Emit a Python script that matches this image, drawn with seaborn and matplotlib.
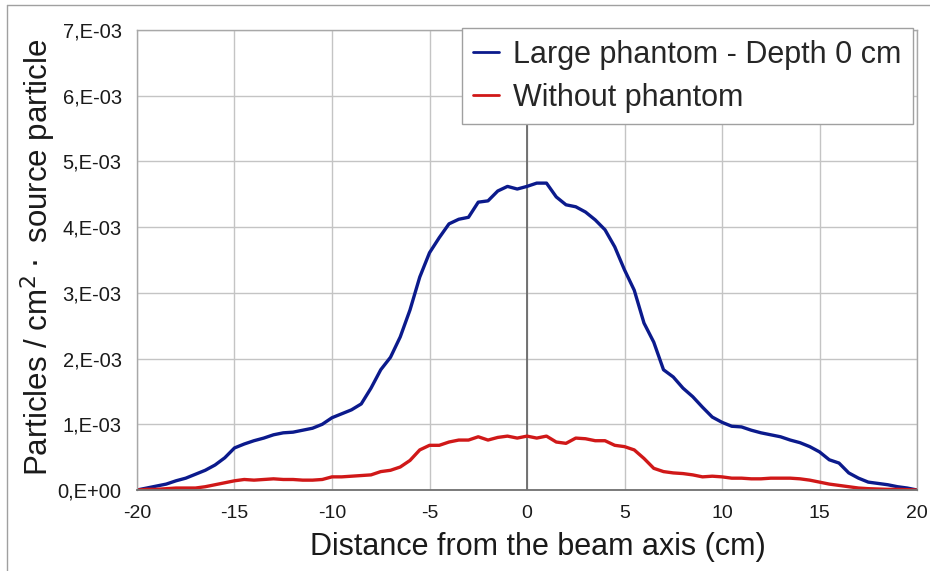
import numpy as np
import pandas as pd
import matplotlib
matplotlib.use("Agg")
import matplotlib.pyplot as plt
import seaborn as sns

# Distance from beam axis (cm)
distance = [-20.0, -19.5, -19.0, -18.5, -18.0, -17.5, -17.0, -16.5, -16.0, -15.5,
            -15.0, -14.5, -14.0, -13.5, -13.0, -12.5, -12.0, -11.5, -11.0, -10.5,
            -10.0, -9.5, -9.0, -8.5, -8.0, -7.5, -7.0, -6.5, -6.0, -5.5,
            -5.0, -4.5, -4.0, -3.5, -3.0, -2.5, -2.0, -1.5, -1.0, -0.5,
            0.0, 0.5, 1.0, 1.5, 2.0, 2.5, 3.0, 3.5, 4.0, 4.5,
            5.0, 5.5, 6.0, 6.5, 7.0, 7.5, 8.0, 8.5, 9.0, 9.5,
            10.0, 10.5, 11.0, 11.5, 12.0, 12.5, 13.0, 13.5, 14.0, 14.5,
            15.0, 15.5, 16.0, 16.5, 17.0, 17.5, 18.0, 18.5, 19.0, 19.5, 20.0]

# Large phantom - Depth 0 cm (units of 1e-3)
large_phantom = [0.00, 0.03, 0.06, 0.09, 0.14, 0.18, 0.24, 0.30, 0.38, 0.49,
                 0.64, 0.70, 0.75, 0.79, 0.84, 0.87, 0.88, 0.91, 0.94, 1.00,
                 1.10, 1.16, 1.22, 1.31, 1.55, 1.83, 2.02, 2.33, 2.74, 3.24,
                 3.61, 3.84, 4.05, 4.12, 4.15, 4.38, 4.40, 4.55, 4.62, 4.58,
                 4.62, 4.67, 4.67, 4.46, 4.34, 4.31, 4.23, 4.11, 3.96, 3.70,
                 3.35, 3.04, 2.54, 2.25, 1.83, 1.72, 1.55, 1.42, 1.26, 1.11,
                 1.03, 0.97, 0.96, 0.91, 0.87, 0.84, 0.81, 0.76, 0.72, 0.66,
                 0.58, 0.46, 0.41, 0.26, 0.18, 0.12, 0.10, 0.08, 0.05, 0.03, 0.00]

# Without phantom (units of 1e-3)
without_phantom = [0.00, 0.01, 0.01, 0.02, 0.03, 0.03, 0.03, 0.05, 0.08, 0.11,
                   0.14, 0.16, 0.15, 0.16, 0.17, 0.16, 0.16, 0.15, 0.15, 0.16,
                   0.20, 0.20, 0.21, 0.22, 0.23, 0.28, 0.30, 0.35, 0.45, 0.61,
                   0.68, 0.68, 0.73, 0.76, 0.76, 0.81, 0.76, 0.80, 0.82, 0.79,
                   0.82, 0.79, 0.82, 0.73, 0.71, 0.79, 0.78, 0.75, 0.75, 0.68,
                   0.66, 0.61, 0.48, 0.33, 0.28, 0.26, 0.25, 0.23, 0.20, 0.21,
                   0.20, 0.18, 0.18, 0.17, 0.17, 0.18, 0.18, 0.18, 0.17, 0.15,
                   0.12, 0.09, 0.07, 0.05, 0.03, 0.02, 0.015, 0.01, 0.01, 0.005, 0.00]

series_names = ["Large phantom - Depth 0 cm", "Without phantom"]
y_ticks = [0, 1e-3, 2e-3, 3e-3, 4e-3, 5e-3, 6e-3, 7e-3]
y_tick_labels = ["0,E+00", "1,E-03", "2,E-03", "3,E-03", "4,E-03", "5,E-03", "6,E-03", "7,E-03"]
x_ticks = [-20, -15, -10, -5, 0, 5, 10, 15, 20]

df = pd.concat([
    pd.DataFrame({"x": distance, "y": np.array(large_phantom) * 1e-3, "series": series_names[0]}),
    pd.DataFrame({"x": distance, "y": np.array(without_phantom) * 1e-3, "series": series_names[1]}),
])

sns.set_theme(style="white")
plt.rcParams["font.family"] = ["Liberation Sans", "DejaVu Sans"]

fig = plt.figure(figsize=(9.3, 5.71), dpi=100)
ax = fig.add_axes([137/930, 1 - 490/571, (917 - 137)/930, (490 - 30)/571])

sns.lineplot(data=df, x="x", y="y", hue="series", hue_order=series_names,
             palette=["#0b1a8c", "#d01818"], linewidth=2.4, ax=ax, legend=True)

ax.set_xlim(-20, 20)
ax.set_ylim(0, 7e-3)
ax.set_xticks(x_ticks)
ax.set_xticklabels([str(t) for t in x_ticks])
ax.set_yticks(y_ticks)
ax.set_yticklabels(y_tick_labels)
ax.tick_params(axis="x", length=0, labelsize=14, colors="#1a1a1a", pad=11)
ax.tick_params(axis="y", length=0, labelsize=14.5, colors="#1a1a1a", pad=11)
ax.grid(True, color="#c4c4c4", linewidth=1.0)
ax.set_axisbelow(True)
for side in ["left", "right", "top"]:
    ax.spines[side].set_color("#a8a8a8")
    ax.spines[side].set_linewidth(1.0)
ax.spines["bottom"].set_color("#707070")
ax.spines["bottom"].set_linewidth(1.3)
ax.axvline(0, color="#6a6a6a", linewidth=1.3, zorder=1.5)

ax.set_xlabel("Distance from the beam axis (cm)", fontsize=22, color="#1a1a1a")
ax.set_ylabel("Particles / cm$^{2}\\cdot$ source particle", fontsize=22.5, color="#1a1a1a")
ax.xaxis.label.set_va("center")
ax.xaxis.set_label_coords(0.514, -0.124)
ax.yaxis.label.set_va("center")
ax.yaxis.set_label_coords(-0.127, 0.505)

leg = ax.legend(loc="upper right", bbox_to_anchor=(0.995, 1.004), fontsize=22,
                frameon=True, fancybox=False, framealpha=1.0, edgecolor="#a0a0a0",
                handlelength=0.85, handletextpad=0.45, borderpad=0.38, labelspacing=0.42,
                borderaxespad=0.0)
leg.get_frame().set_linewidth(1.0)
for line in leg.get_lines():
    line.set_linewidth(2.0)

# outer frame (top and left visible)
fig.add_artist(plt.Line2D([7/930, 7/930], [0, 1 - 5/571], color="#a0a0a0", linewidth=1.0,
                          transform=fig.transFigure))
fig.add_artist(plt.Line2D([7/930, 1], [1 - 5/571, 1 - 5/571], color="#a0a0a0", linewidth=1.0,
                          transform=fig.transFigure))

fig.savefig("out.png", dpi=100)
